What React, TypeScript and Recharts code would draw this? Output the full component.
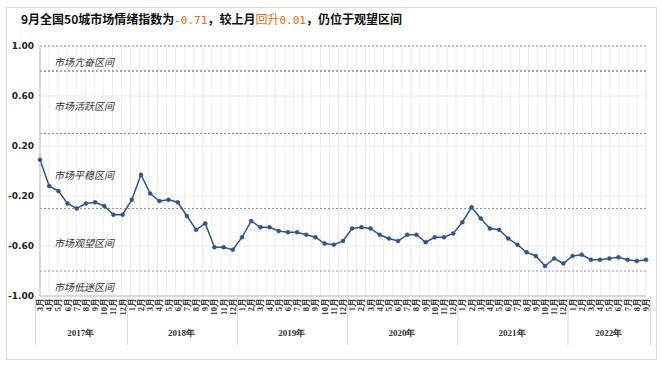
import React from "react";
import { LineChart, Line, XAxis, YAxis, CartesianGrid, ReferenceLine, ReferenceArea } from "recharts";

// categories: months from 2017-03 to 2022-09
const yearLabels = ["2017年", "2018年", "2019年", "2020年", "2021年", "2022年"];
const monthsPerYear = [10, 12, 12, 12, 12, 9];
const firstMonthOfFirstYear = 3;

// 50-city market sentiment index
const sentiment = [
  0.09, -0.12, -0.16, -0.26, -0.3, -0.26, -0.25, -0.28, -0.35, -0.35,
  -0.23, -0.03, -0.18, -0.24, -0.23, -0.25, -0.36, -0.47, -0.42, -0.61, -0.61, -0.63,
  -0.53, -0.4, -0.45, -0.45, -0.48, -0.49, -0.49, -0.51, -0.53, -0.58, -0.59, -0.56,
  -0.46, -0.45, -0.46, -0.51, -0.54, -0.56, -0.51, -0.51, -0.57, -0.53, -0.53, -0.5,
  -0.41, -0.29, -0.38, -0.46, -0.47, -0.54, -0.59, -0.65, -0.68, -0.76, -0.7, -0.74,
  -0.68, -0.67, -0.71, -0.71, -0.7, -0.69, -0.71, -0.72, -0.71,
];

const yTicks = [-1, -0.6, -0.2, 0.2, 0.6, 1];
const zoneBounds = [1, 0.8, 0.3, -0.3, -0.8, -1];
const zoneNames = ["市场亢奋区间", "市场活跃区间", "市场平稳区间", "市场观望区间", "市场低迷区间"];

const LINE_COLOR = "#2f5496";
const ORANGE = "#e46c0a";

const W = 662;
const H = 367;
const M = { top: 46, right: 16, bottom: 0, left: 0 };
const Y_AXIS_W = 40;

type Row = { key: string; month: string; yearIdx: number; yearStart: boolean; value: number };

const rows: Row[] = [];
{
  let i = 0;
  monthsPerYear.forEach((count, yi) => {
    const start = yi === 0 ? firstMonthOfFirstYear : 1;
    for (let k = 0; k < count; k++) {
      const m = start + k;
      rows.push({ key: `${yi}-${m}`, month: `${m}月`, yearIdx: yi, yearStart: k === 0, value: sentiment[i] });
      i++;
    }
  });
}

// half a category band, in px
const HALF_BAND = (W - M.left - M.right - Y_AXIS_W) / rows.length / 2;

function MonthTick(props: any) {
  const { x, y, payload, index } = props;
  const idx = payload?.index ?? index;
  const row = rows[idx];
  if (!row) return null;
  const half = HALF_BAND;
  const count = monthsPerYear[row.yearIdx];
  return (
    <g>
      <text
        x={x}
        y={y + 2}
        transform={`rotate(-90, ${x}, ${y + 2})`}
        textAnchor="end"
        dominantBaseline="central"
        fontSize={8.5}
        fontWeight="bold"
        fill="#333"
      >
        {row.month}
      </text>
      {row.yearStart && (
        <>
          <line x1={x - half} x2={x - half} y1={y} y2={y + 49} stroke="#d9d9d9" />
          <text
            x={x - half + count * half}
            y={y + 40}
            textAnchor="middle"
            fontSize={9}
            fontWeight="bold"
            fill="#333"
          >
            {yearLabels[row.yearIdx]}
          </text>
        </>
      )}
      {idx === rows.length - 1 && (
        <line x1={x + half} x2={x + half} y1={y} y2={y + 49} stroke="#d9d9d9" />
      )}
    </g>
  );
}

function ZoneLabel(props: any) {
  const { viewBox, text } = props;
  if (!viewBox) return null;
  return (
    <text
      x={viewBox.x + 14}
      y={viewBox.y + viewBox.height / 2 + 3}
      dominantBaseline="central"
      fontSize={10}
      fontStyle="italic"
      fill="#333"
      fontFamily="'Noto Sans CJK SC', sans-serif"
    >
      {text}
    </text>
  );
}

export default function App() {
  const n = rows.length;
  return (
    <div style={{ position: "absolute", left: 0, top: 0, width: W, height: H, background: "#fff" }}>
      <div
        style={{
          position: "absolute",
          left: 6,
          top: 7,
          width: 649,
          height: 351,
          border: "1px solid #d9d9d9",
        }}
      />
      <div
        style={{
          position: "absolute",
          left: 21,
          top: 11,
          fontSize: 12,
          lineHeight: "16px",
          fontWeight: 700,
          color: "#111",
          fontFamily: "'Noto Sans CJK SC', sans-serif",
          whiteSpace: "nowrap",
        }}
      >
        9月全国50城市场情绪指数为
        <span style={{ color: ORANGE, fontWeight: 400, fontFamily: "'DejaVu Sans Mono', monospace", fontSize: 11 }}>-0.71</span>
        ，较上月
        <span style={{ color: ORANGE, fontWeight: 400 }}>回升</span>
        <span style={{ color: ORANGE, fontWeight: 400, fontFamily: "'DejaVu Sans Mono', monospace", fontSize: 11 }}>0.01</span>
        ，仍位于观望区间
      </div>
      <div style={{ position: "absolute", left: 0, top: 0 }}>
        <LineChart width={W} height={H} data={rows} margin={M}>
          <CartesianGrid
            stroke="#ececec"
            horizontal={true}
            vertical={true}
            verticalCoordinatesGenerator={({ offset }: any) =>
              Array.from({ length: n + 1 }, (_, i) => offset.left + (i * offset.width) / n)
            }
          />
          {zoneNames.map((name, i) => (
            <ReferenceArea
              key={name}
              y1={zoneBounds[i]}
              y2={zoneBounds[i + 1]}
              fill="none"
              fillOpacity={0}
              stroke="none"
              label={<ZoneLabel text={name} />}
            />
          ))}
          {zoneBounds.slice(0, 5).map((b) => (
            <ReferenceLine
              key={b}
              y={b}
              stroke={b === 0.8 ? "#44546a" : "#8a94a6"}
              strokeDasharray="2 2"
              strokeWidth={1}
            />
          ))}
          <XAxis
            dataKey="key"
            interval={0}
            height={71}
            tickSize={0}
            tickMargin={0}
            tickLine={false}
            axisLine={{ stroke: "#bfbfbf" }}
            tick={<MonthTick />}
          />
          <YAxis
            width={Y_AXIS_W}
            domain={[-1, 1]}
            ticks={yTicks}
            tickFormatter={(v: number) => v.toFixed(2)}
            tickLine={false}
            tickSize={0}
            tickMargin={6}
            axisLine={{ stroke: "#bfbfbf" }}
            tick={{ fontSize: 9, fontWeight: "bold", fill: "#222", fontFamily: "'DejaVu Sans', sans-serif" }}
          />
          <Line
            type="linear"
            dataKey="value"
            stroke={LINE_COLOR}
            strokeWidth={1.5}
            dot={{ r: 2, fill: LINE_COLOR, stroke: LINE_COLOR, strokeWidth: 0.5 }}
            isAnimationActive={false}
          />
        </LineChart>
      </div>
    </div>
  );
}
